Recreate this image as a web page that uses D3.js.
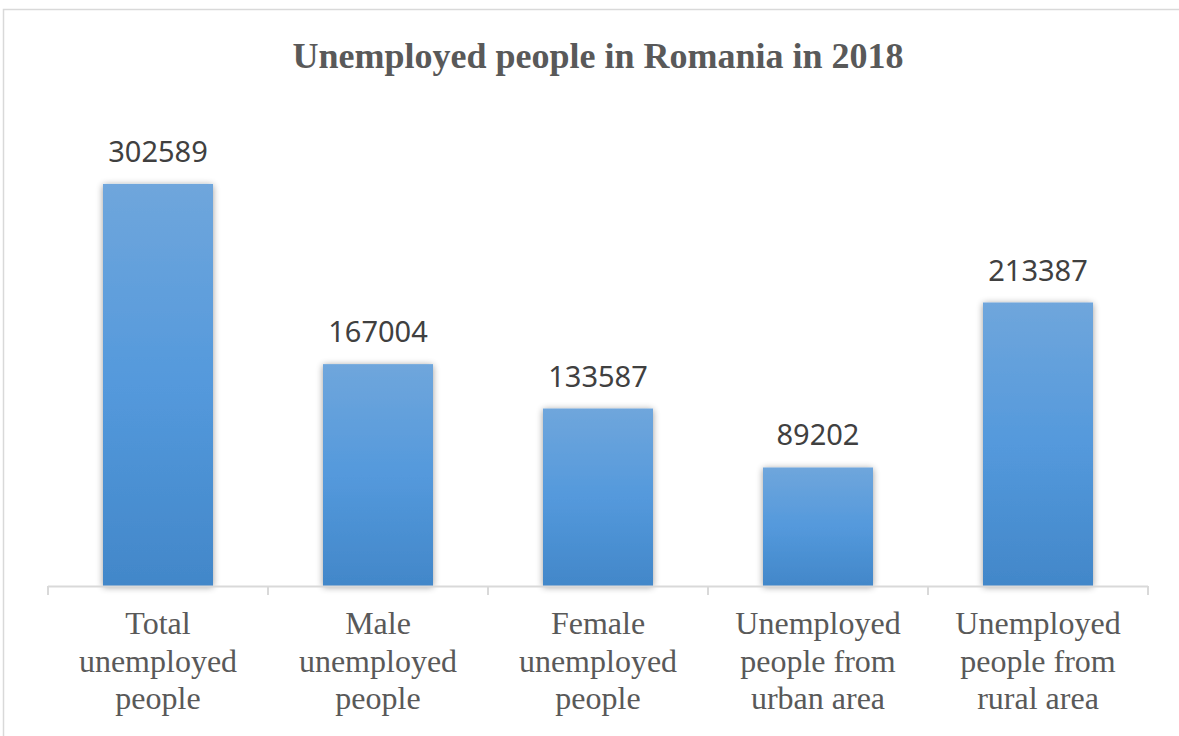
<!DOCTYPE html>
<html>
<head>
<meta charset="utf-8">
<script src="https://cdn.jsdelivr.net/npm/d3@7"></script>
<style>
  body { margin: 0; background: #fff; }
</style>
</head>
<body>
<div id="chart"></div>
<script>
// data
var categories = [
  ["Total", "unemployed", "people"],
  ["Male", "unemployed", "people"],
  ["Female", "unemployed", "people"],
  ["Unemployed", "people from", "urban area"],
  ["Unemployed", "people from", "rural area"]
];
var values = [302589, 167004, 133587, 89202, 213387];
var title = "Unemployed people in Romania in 2018";

var W = 1179, H = 736;
var margin = {top: 121, left: 48, right: 31, bottom: 150};

var svg = d3.select("#chart").append("svg")
    .attr("width", W)
    .attr("height", H);

var defs = svg.append("defs");
var grad = defs.append("linearGradient")
    .attr("id", "barGrad")
    .attr("x1", 0).attr("y1", 0).attr("x2", 0).attr("y2", 1);
grad.append("stop").attr("offset", "0%").attr("stop-color", "#6fa6dc");
grad.append("stop").attr("offset", "50%").attr("stop-color", "#5499dc");
grad.append("stop").attr("offset", "100%").attr("stop-color", "#4287c9");

var shadow = defs.append("filter").attr("id", "shadow")
    .attr("x", "-20%").attr("y", "-10%").attr("width", "140%").attr("height", "120%");
shadow.append("feGaussianBlur").attr("in", "SourceAlpha").attr("stdDeviation", 3.5).attr("result", "blur");
shadow.append("feOffset").attr("in", "blur").attr("dx", 0).attr("dy", 1).attr("result", "off");
shadow.append("feComponentTransfer").attr("in", "off").attr("result", "soft")
  .append("feFuncA").attr("type", "linear").attr("slope", 0.4);
var merge = shadow.append("feMerge");
merge.append("feMergeNode").attr("in", "soft");
merge.append("feMergeNode").attr("in", "SourceGraphic");

// outer frame
svg.append("rect")
    .attr("x", 3.5).attr("y", 9.5)
    .attr("width", W + 10).attr("height", H + 10)
    .attr("fill", "none")
    .attr("stroke", "#d9d9d9")
    .attr("stroke-width", 1.5);

// title
svg.append("text")
    .attr("x", 598)
    .attr("y", 68)
    .attr("text-anchor", "middle")
    .style("font-family", "'Liberation Serif', 'Times New Roman', serif")
    .style("font-weight", "bold")
    .style("font-size", "36px")
    .style("fill", "#595959")
    .text(title);

var baseY = 586;

var x = d3.scaleBand()
    .domain(d3.range(categories.length))
    .range([margin.left, W - margin.right])
    .paddingInner(0.5)
    .paddingOuter(0.25);

var y = d3.scaleLinear()
    .domain([0, 350000])
    .range([baseY, margin.top]);

// bars
svg.append("g").selectAll("rect")
  .data(values)
  .enter()
  .append("rect")
    .attr("x", function(d, i) { return x(i); })
    .attr("y", function(d) { return y(d); })
    .attr("width", x.bandwidth())
    .attr("height", function(d) { return baseY - y(d); })
    .attr("fill", "url(#barGrad)")
    .attr("filter", "url(#shadow)");

// value labels
svg.append("g").selectAll("text")
  .data(values)
  .enter()
  .append("text")
    .attr("x", function(d, i) { return x(i) + x.bandwidth() / 2; })
    .attr("y", function(d) { return y(d) - 22; })
    .attr("text-anchor", "middle")
    .style("font-family", "'Noto Sans', 'Open Sans', sans-serif")
    .style("font-size", "29px")
    .style("fill", "#404040")
    .text(function(d) { return d; });

// x axis: baseline plus boundary ticks
var xAxis = svg.append("g");
var edges = d3.range(categories.length + 1).map(function(i) {
  return margin.left + i * x.step();
});
xAxis.append("line")
    .attr("x1", edges[0]).attr("x2", edges[edges.length - 1])
    .attr("y1", baseY + 0.5).attr("y2", baseY + 0.5)
    .attr("stroke", "#d9d9d9")
    .attr("stroke-width", 2);
xAxis.selectAll(".tick")
  .data(edges)
  .enter()
  .append("line")
    .attr("x1", function(d) { return d; })
    .attr("x2", function(d) { return d; })
    .attr("y1", baseY)
    .attr("y2", baseY + 9)
    .attr("stroke", "#d9d9d9")
    .attr("stroke-width", 2);

// category labels
var labels = svg.append("g").selectAll("text")
  .data(categories)
  .enter()
  .append("text")
    .attr("text-anchor", "middle")
    .style("font-family", "'Liberation Serif', 'Times New Roman', serif")
    .style("font-size", "32px")
    .style("fill", "#595959");

labels.each(function(lines, i) {
  var t = d3.select(this);
  lines.forEach(function(s, k) {
    t.append("tspan")
      .attr("x", x(i) + x.bandwidth() / 2)
      .attr("y", 634 + k * 37.5)
      .text(s);
  });
});
</script>
</body>
</html>
